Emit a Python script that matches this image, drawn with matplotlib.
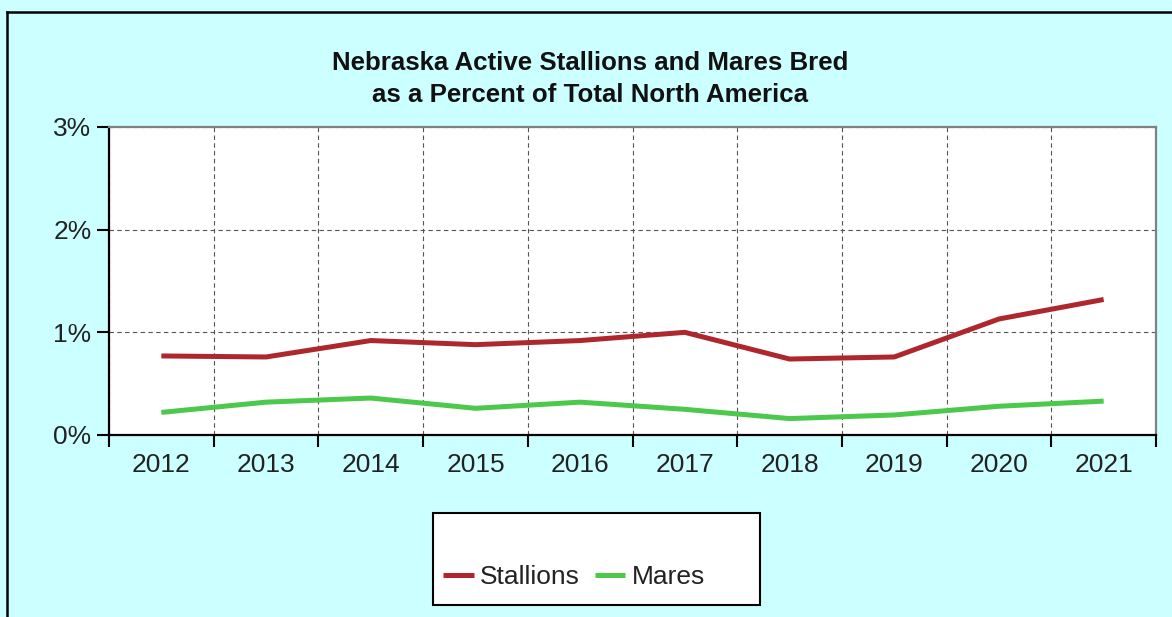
import matplotlib
matplotlib.use("Agg")
import matplotlib.pyplot as plt
from matplotlib.patches import Rectangle
from matplotlib.lines import Line2D
from matplotlib.ticker import FuncFormatter, FixedLocator

years = ["2012", "2013", "2014", "2015", "2016", "2017", "2018", "2019", "2020", "2021"]
stallions = [0.77, 0.76, 0.92, 0.88, 0.92, 1.00, 0.74, 0.76, 1.13, 1.32]
mares = [0.22, 0.32, 0.36, 0.26, 0.32, 0.25, 0.16, 0.195, 0.28, 0.33]
y_ticks = [0, 1, 2, 3]

title_lines = ["Nebraska Active Stallions and Mares Bred",
               "as a Percent of Total North America"]

W, H = 1172, 617
plt.rcParams['font.family'] = ['Liberation Sans', 'DejaVu Sans']
fig = plt.figure(figsize=(W / 100, H / 100), dpi=100)
fig.patch.set_facecolor('#CCFFFF')

def fx(px):
    return px / W

def fy(py):
    return 1 - py / H

ax = fig.add_axes([fx(109), fy(435), fx(1156) - fx(109), fy(127) - fy(435)])
ax.set_facecolor('white')

x = list(range(len(years)))
ax.plot(x, stallions, color='#AE272D', lw=3.6, solid_capstyle='butt', label='Stallions', zorder=3)
ax.plot(x, mares, color='#4CC84C', lw=3.6, solid_capstyle='butt', label='Mares', zorder=3)

ax.set_xlim(-0.5, len(years) - 0.5)
ax.set_ylim(0, 3)

tick_color = '#222222'
ax.set_xticks(x)
ax.set_xticklabels(years, fontsize=19, color=tick_color)
ax.xaxis.set_minor_locator(FixedLocator([i - 0.5 for i in range(len(years) + 1)]))
ax.tick_params(axis='x', which='major', length=0, pad=13)
ax.tick_params(axis='x', which='minor', length=8.6, width=1.5, color='black')

ax.set_yticks(y_ticks)
ax.yaxis.set_major_formatter(FuncFormatter(lambda v, p: f"{int(v)}%"))
ax.tick_params(axis='y', which='major', length=8.6, width=1.5, color='black',
               labelsize=19, labelcolor=tick_color, pad=4)

ax.grid(False)
ax.xaxis.grid(True, which='minor', linestyle=(0, (4, 3)), color='#555555', lw=0.8)
ax.yaxis.grid(True, which='major', linestyle=(0, (4, 3)), color='#555555', lw=0.8)
ax.set_axisbelow(True)

for s in ['left', 'bottom']:
    ax.spines[s].set_color('black')
    ax.spines[s].set_linewidth(1.6)
for s in ['top', 'right']:
    ax.spines[s].set_color('#808080')
    ax.spines[s].set_linewidth(1.6)

fig.text(fx(590), fy(69.5), title_lines[0], ha='center', va='baseline', fontsize=18.6,
         fontweight='bold', color='#111111')
fig.text(fx(590), fy(101.5), title_lines[1], ha='center', va='baseline', fontsize=18.6,
         fontweight='bold', color='#111111')

# outer border (left and top)
fig.add_artist(Line2D([fx(7), fx(7)], [fy(12), 0], transform=fig.transFigure, color='black', lw=1.8))
fig.add_artist(Line2D([fx(7), 1], [fy(12), fy(12)], transform=fig.transFigure, color='black', lw=1.8))

# legend box
fig.add_artist(Rectangle((fx(433), fy(605)), fx(760) - fx(433), fy(513) - fy(605),
                         transform=fig.transFigure, facecolor='white', edgecolor='black', lw=1.5))
leg = fig.legend(loc='center', bbox_to_anchor=(fx(574), fy(577)), ncol=2, frameon=False,
                 fontsize=19, handlelength=1.15, handletextpad=0.25, columnspacing=0.55,
                 labelcolor=tick_color)

fig.savefig('out.png', dpi=100, facecolor=fig.get_facecolor())
